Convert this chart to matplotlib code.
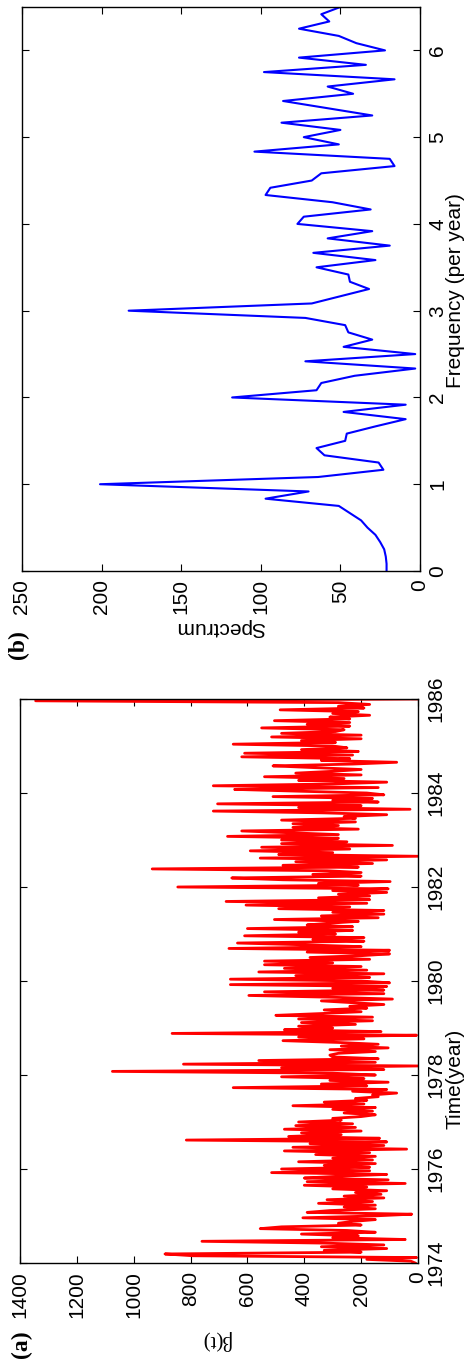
import numpy as np
import matplotlib.pyplot as plt

# beta(t), two-week steps in 2-year blocks
beta_1974 = [10, 25, 180, 5, 790, 890, 200, 330, 110, 340, 120, 330, 760, 45, 300, 210,
             410, 150, 250, 555, 480, 200, 280, 230, 150, 405, 160, 22, 390, 310, 150, 260,
             150, 350, 160, 320, 120, 260, 130, 220, 110, 300, 180, 400, 45, 390, 105, 400,
             280, 110, 515, 170]
beta_1976 = [480, 170, 330, 150, 420, 160, 300, 150, 360, 170, 470, 40, 440, 120, 380, 110,
             815, 135, 455, 270, 410, 200, 470, 220, 430, 230, 420, 270, 300, 200, 150, 260,
             160, 300, 150, 440, 190, 330, 180, 220, 140, 160, 75, 230, 110, 650, 180, 340,
             105, 310, 190, 480]
beta_1978 = [150, 300, 1075, 120, 480, 0, 825, 150, 560, 140, 300, 310, 280, 150, 310, 105,
             270, 140, 280, 475, 190, 420, 5, 865, 130, 470, 300, 420, 220, 410, 160, 420,
             160, 500, 340, 200, 330, 180, 240, 120, 230, 340, 90, 300, 595, 120, 540, 120,
             300, 110, 660, 100]
beta_1980 = [200, 660, 170, 430, 120, 560, 180, 470, 200, 540, 300, 540, 170, 380, 200, 100,
             390, 100, 665, 200, 395, 635, 190, 370, 190, 610, 290, 420, 230, 600, 230, 390,
             310, 210, 505, 140, 340, 120, 300, 120, 490, 240, 605, 180, 675, 170, 350, 170,
             280, 110, 300, 105]
beta_1982 = [845, 210, 350, 98, 475, 655, 200, 370, 200, 320, 935, 210, 475, 160, 430, 110,
             555, 0, 490, 300, 590, 240, 550, 90, 480, 250, 480, 280, 670, 280, 450, 620,
             210, 440, 280, 440, 220, 480, 220, 260, 110, 330, 720, 28, 420, 200, 705, 140,
             300, 160, 510, 120]
beta_1984 = [180, 420, 645, 140, 720, 300, 110, 420, 260, 540, 200, 430, 300, 200, 360, 510,
             230, 75, 340, 240, 620, 230, 610, 210, 410, 250, 300, 650, 290, 410, 200, 515,
             200, 480, 290, 260, 550, 240, 390, 240, 505, 240, 310, 170, 300, 210, 485, 190,
             280, 170, 280, 1345, 0]

beta = beta_1974 + beta_1976 + beta_1978 + beta_1980 + beta_1982 + beta_1984
years = 1974 + np.arange(len(beta)) / 26.0

# spectrum at k/12 cycles per year
spectrum = [21, 21, 21.5, 22.5, 25, 28, 33, 37, 44, 51, 97, 70, 201, 64, 23, 26,
            60, 65, 47, 46, 28, 9, 48, 9, 118, 65, 62, 41, 3, 72, 3, 48,
            30, 45, 47, 72, 183, 68, 50, 32, 44, 45, 65, 28, 67, 19, 58, 30,
            77, 73, 31, 55, 97, 94, 68, 62, 16, 19, 104, 51, 73, 50, 87, 30,
            58, 86, 42, 58, 16, 98, 34, 76, 22, 40, 51, 76, 57, 62, 50]
freq = np.arange(len(spectrum)) / 12.0

sans = ['Liberation Sans', 'DejaVu Sans']
serif = ['Liberation Serif', 'DejaVu Serif']
plt.rcParams['font.family'] = sans
plt.rcParams['font.size'] = 15

W, H = 468.0, 1364.0
fig = plt.figure(figsize=(4.68, 13.64), dpi=100)


def style(ax):
    ax.tick_params(direction='in', length=5, width=0.8, top=True, bottom=True,
                   left=True, right=True, labelleft=False, labelright=True,
                   labelbottom=True, labeltop=False, pad=6, labelsize=15,
                   labelrotation=90)
    for s in ax.spines.values():
        s.set_linewidth(1.0)
    for lbl in ax.yaxis.get_majorticklabels():
        lbl.set_va('center')
    ax.yaxis.set_label_position('right')
    ax.xaxis.label.set(ha='center', va='center', rotation_mode='default')
    ax.yaxis.label.set(ha='center', va='center', rotation_mode='default')


# panel (a): time series, drawn sideways
axa = fig.add_axes([20 / W, 1 - 1263 / H, 398 / W, 564 / H])
axa.plot(beta, years, color='red', lw=2.0)
axa.set_xlim(1400, 0)
axa.set_ylim(1974, 1986)
axa.set_xticks(range(0, 1401, 200))
axa.set_yticks(range(1974, 1987, 2))
axa.set_xlabel('β(t)', rotation=180, family=serif)
axa.set_ylabel('Time(year)', rotation=90)
style(axa)
axa.xaxis.set_label_coords(0.49, -0.137)
axa.yaxis.set_label_coords(1.093, 0.326)

# panel (b): spectrum
axb = fig.add_axes([22 / W, 1 - 571 / H, 398 / W, 564 / H])
axb.plot(spectrum, freq, color='blue', lw=1.5)
axb.set_xlim(250, 0)
axb.set_ylim(0, 6.5)
axb.set_xticks(range(0, 251, 50))
axb.set_yticks(range(0, 7))
axb.set_xlabel('Spectrum', rotation=180)
axb.set_ylabel('Frequency (per year)', rotation=90)
style(axb)
axb.xaxis.set_label_coords(0.497, -0.101)
axb.yaxis.set_label_coords(1.09, 0.498)

fig.text(21 / W, 1 - 1344 / H, '(a)', rotation=90, ha='center', va='center',
         family=serif, weight='bold', fontsize=17)
fig.text(18 / W, 1 - 645 / H, '(b)', rotation=90, ha='center', va='center',
         family=serif, weight='bold', fontsize=17)

fig.savefig('out.png', dpi=100)
